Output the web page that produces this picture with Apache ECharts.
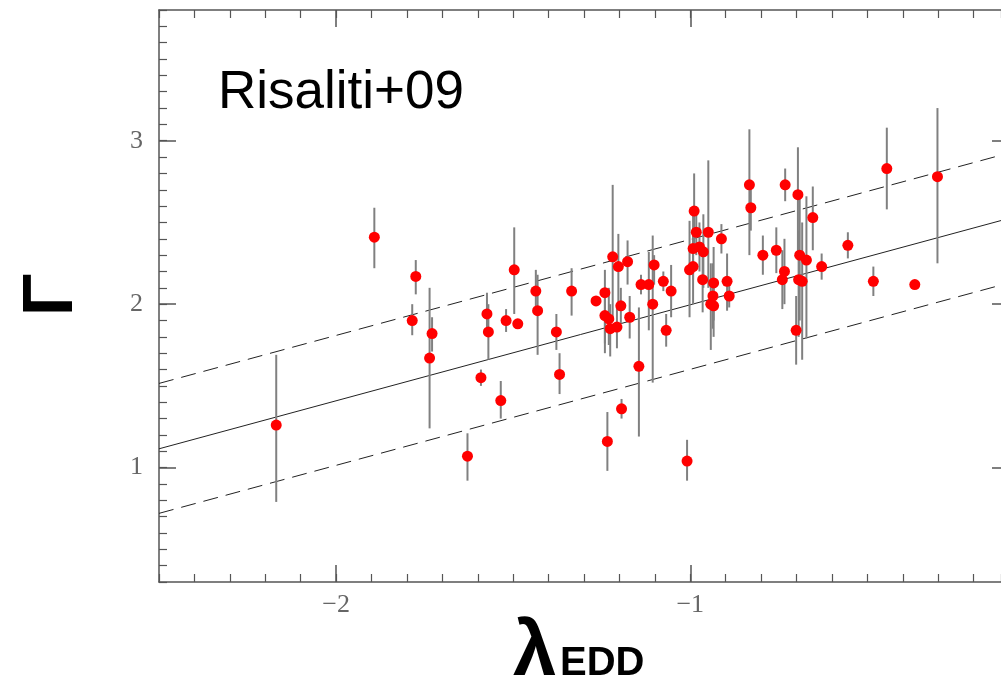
<!DOCTYPE html>
<html>
<head>
<meta charset="utf-8">
<script src="https://cdn.jsdelivr.net/npm/echarts@6/dist/echarts.min.js"></script>
<style>
html,body{margin:0;padding:0;background:#fff;}
#chart{width:1001px;height:680px;}
</style>
</head>
<body>
<div id="chart"></div>
<script>
// ---- data ----
const lambdaEdd = [-2.169,-1.892,-1.775,-1.785,-1.729,-1.736,-1.629,-1.574,-1.570,-1.591,-1.535,-1.497,-1.520,-1.487,-1.436,-1.431,-1.335,-1.266,-1.378,-1.369,-1.241,-1.219,-1.203,-1.177,-1.241,-1.230,-1.226,-1.207,-1.196,-1.171,-1.145,-1.194,-1.234,-1.139,-1.117,-1.102,-1.106,-1.076,-1.054,-1.068,-1.009,-0.989,-0.983,-0.949,-0.912,-0.992,-0.974,-0.963,-1.002,-0.992,-0.965,-0.934,-0.896,-0.936,-0.942,-0.934,-0.890,-0.833,-0.829,-0.732,-0.696,-0.654,-0.795,-0.757,-0.734,-0.740,-0.691,-0.672,-0.694,-0.684,-0.701,-0.629,-0.555,-0.483,-0.366,-0.445,-0.302];
const gamma     = [1.26,2.41,2.17,1.90,1.82,1.67,1.07,1.94,1.83,1.55,1.41,2.21,1.90,1.88,2.08,1.96,2.08,2.02,1.83,1.57,2.07,2.29,2.23,2.26,1.93,1.91,1.85,1.86,1.99,1.92,1.62,1.36,1.16,2.12,2.12,2.24,2.00,2.14,2.08,1.84,1.04,2.57,2.44,2.44,2.40,2.34,2.35,2.32,2.21,2.23,2.15,2.13,2.14,2.05,2.00,1.99,2.05,2.73,2.59,2.73,2.67,2.53,2.30,2.33,2.20,2.15,2.30,2.27,2.15,2.14,1.84,2.23,2.36,2.14,2.12,2.83,2.78];
const gammaLo   = [0.79,2.22,2.06,1.81,1.71,1.24,0.92,1.85,1.66,1.50,1.30,1.94,1.83,1.87,1.97,1.69,1.93,1.99,1.72,1.45,1.76,1.90,1.99,2.12,1.70,1.75,1.68,1.73,1.88,1.79,1.19,1.30,0.98,2.06,1.84,2.12,1.52,2.08,1.92,1.74,0.92,2.34,2.30,2.10,2.31,2.15,2.20,2.10,1.92,2.00,1.95,1.90,1.96,1.85,1.72,1.80,1.98,2.30,2.45,2.63,2.30,2.33,2.18,2.19,2.00,1.97,1.90,1.79,1.80,1.66,1.63,2.15,2.28,2.05,2.12,2.58,2.25];
const gammaHi   = [1.69,2.59,2.27,2.00,1.92,2.10,1.21,2.07,2.00,1.60,1.53,2.47,1.97,1.89,2.21,2.18,2.22,2.05,1.94,1.70,2.21,2.73,2.43,2.39,2.05,2.10,2.00,2.00,2.10,2.05,1.98,1.42,1.34,2.18,2.32,2.30,2.42,2.20,2.24,1.94,1.17,2.80,2.60,2.88,2.49,2.55,2.50,2.55,2.51,2.45,2.35,2.35,2.31,2.25,2.25,2.15,2.12,3.07,2.70,2.83,2.96,2.72,2.42,2.47,2.40,2.33,2.65,2.66,2.45,2.50,2.05,2.31,2.44,2.23,2.12,3.08,3.20];

// fit line and scatter band endpoints
const fitX     = [-2.5, -0.1];
const fitY     = [1.115, 2.525];
const upperY   = [1.515, 2.925];
const lowerY   = [0.720, 2.130];

const xMajorTicks = [-2, -1];
const yMajorTicks = [1, 2, 3];

// visible x range (the plot is cut at the right edge of the picture)
const xMin = -2.5, xMax = -0.1226;
const yMin = 0.3, yMax = 3.8;

// ---- build ----
const points = lambdaEdd.map((x, i) => [x, gamma[i]]);
const bars = lambdaEdd.map((x, i) => [x, gammaLo[i], gammaHi[i]]);
const line = (ys) => fitX.map((x, i) => [x, ys[i]]);

const frame = '#555';
const tickFont = { fontFamily: 'Liberation Serif', fontSize: 26, color: '#666' };
const minus = v => (v < 0 ? '\u2212' + Math.abs(v) : String(v));

function xAx(pos, major, labels) {
  return {
    type: 'value', position: pos, min: xMin, max: xMax, interval: 0.1,
    axisLine: { show: !major, onZero: false, lineStyle: { color: frame, width: 1.5 } },
    axisTick: major
      ? { show: true, inside: true, length: 17, customValues: xMajorTicks, lineStyle: { color: frame, width: 1.5 } }
      : { show: true, inside: true, length: 8, lineStyle: { color: frame, width: 1.2 } },
    axisLabel: labels
      ? Object.assign({ show: true, customValues: xMajorTicks, margin: 10, formatter: minus }, tickFont)
      : { show: false },
    splitLine: { show: false }
  };
}
function yAx(pos, major, labels, opts) {
  opts = opts || {};
  return {
    type: 'value', position: pos, min: yMin, max: yMax, interval: 0.1,
    axisLine: { show: !major && !opts.noLine, onZero: false, lineStyle: { color: frame, width: 1.5 } },
    axisTick: major
      ? { show: true, inside: true, length: opts.majorLen || 17, customValues: yMajorTicks, lineStyle: { color: frame, width: 1.5 } }
      : { show: !opts.noMinor, inside: true, length: 8, lineStyle: { color: frame, width: 1.2 } },
    axisLabel: labels
      ? Object.assign({ show: true, customValues: yMajorTicks, margin: 16, formatter: minus }, tickFont)
      : { show: false },
    splitLine: { show: false }
  };
}

const chart = echarts.init(document.getElementById('chart'), null, { renderer: 'canvas' });
chart.setOption({
  animation: false,
  backgroundColor: '#fff',
  grid: { left: 159, top: 10, right: 0, height: 572, containLabel: false },
  xAxis: [xAx('bottom', false, false), xAx('bottom', true, true), xAx('top', false, false), xAx('top', true, false)],
  yAxis: [yAx('left', false, false), yAx('left', true, true),
          yAx('right', false, false, { noLine: true, noMinor: true }),
          yAx('right', true, false, { majorLen: 9 })],
  graphic: [
    { type: 'text', x: 218, y: 93, style: { text: 'Risaliti+09', font: '53px "Liberation Sans"', fill: '#000', align: 'left', verticalAlign: 'middle' } },
    { type: 'text', x: 52, y: 295, rotation: Math.PI / 2,
      style: { text: '\u0393', font: 'bold 71px "Liberation Sans"', fill: '#000', align: 'center', verticalAlign: 'middle' } },
    { type: 'text', x: 513, y: 692, style: { text: '\u03bb', font: 'bold 78px "Liberation Sans"', fill: '#000', align: 'left', verticalAlign: 'bottom' } },
    { type: 'text', x: 560, y: 684, style: { text: 'EDD', font: 'bold 40px "Liberation Sans"', fill: '#000', align: 'left', verticalAlign: 'bottom' } }
  ],
  series: [
    { type: 'line', data: line(fitY), showSymbol: false, symbol: 'none', silent: true,
      lineStyle: { color: '#222', width: 1 }, z: 1 },
    { type: 'line', data: line(upperY), showSymbol: false, symbol: 'none', silent: true,
      lineStyle: { color: '#222', width: 1, type: [15, 8] }, z: 1 },
    { type: 'line', data: line(lowerY), showSymbol: false, symbol: 'none', silent: true,
      lineStyle: { color: '#222', width: 1, type: [15, 8] }, z: 1 },
    { type: 'custom', data: bars, silent: true, z: 2,
      renderItem: function (params, api) {
        const a = api.coord([api.value(0), api.value(1)]);
        const b = api.coord([api.value(0), api.value(2)]);
        return { type: 'line', shape: { x1: a[0], y1: a[1], x2: b[0], y2: b[1] },
                 style: { stroke: '#808080', lineWidth: 2 } };
      },
      encode: { x: 0, y: [1, 2] } },
    { type: 'scatter', data: points, symbol: 'circle', symbolSize: 11, z: 3,
      itemStyle: { color: '#ff0000', opacity: 1 } }
  ]
});
</script>
</body>
</html>
